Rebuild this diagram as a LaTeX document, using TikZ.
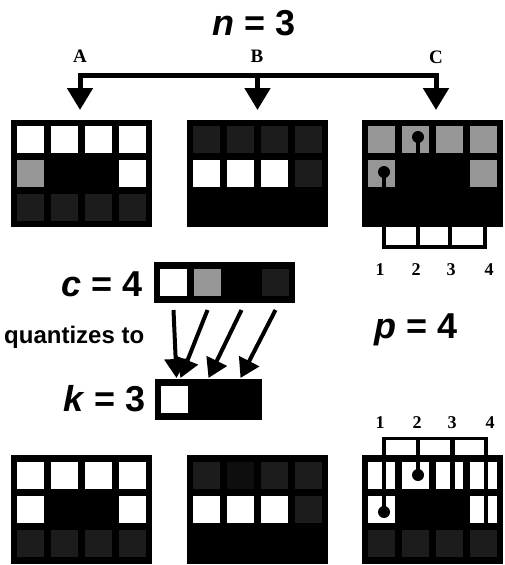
\documentclass[tikz,border=0pt]{standalone}
\usepackage{fontspec}
\setmainfont{Liberation Serif}
\setsansfont{Liberation Sans}
\usetikzlibrary{arrows.meta}
\definecolor{gy}{RGB}{150,150,150}
\definecolor{dk}{RGB}{28,28,28}
\definecolor{dkb}{RGB}{14,14,14}
\definecolor{bk}{RGB}{0,0,0}
\definecolor{wt}{RGB}{255,255,255}
\tikzset{
  boxfill/.style={fill=black, draw=none, inner sep=0pt, outer sep=0pt, anchor=north west},
  cellbox/.style={draw=none, inner sep=0pt, outer sep=0pt, minimum width=27pt, minimum height=27pt, anchor=north west},
  mathlbl/.style={font=\sffamily\bfseries\fontsize{36}{40}\selectfont, inner sep=0pt},
  wordlbl/.style={font=\sffamily\bfseries\fontsize{24}{27}\selectfont, inner sep=0pt},
  letterlbl/.style={font=\rmfamily\bfseries\fontsize{19}{22}\selectfont, inner sep=0pt, anchor=base},
  numlbl/.style={font=\rmfamily\bfseries\fontsize{18}{20}\selectfont, inner sep=0pt, anchor=base},
  bus/.style={line width=5pt, draw=black},
  bigtip/.style={-{Triangle[width=25pt,length=22pt]}},
  qarrow/.style={line width=4pt, draw=black, -{Triangle[width=22pt,length=19pt]}},
  wire/.style={line width=4.5pt, draw=black},
  pin/.style={circle, fill=black, draw=none, inner sep=0pt, minimum size=12pt},
  whitecell/.style={fill=white, draw=none, inner sep=0pt, outer sep=0pt, anchor=north west}
}
% name, x0, y0, box height, 12 colours (row major)
\newcommand{\gridpanel}[5]{%
  \node[boxfill, minimum width=141pt, minimum height=#4pt] (#1) at (#2,#3) {};
  \foreach \cc [count=\i from 0] in {#5} {
    \pgfmathtruncatemacro\cx{mod(\i,4)}
    \pgfmathtruncatemacro\cy{div(\i,4)}
    \node[cellbox, fill=\cc] (#1-\i) at ({#2+6+34*\cx},{#3+(#4-95)/2+34*\cy}) {};
  }
}
\begin{document}
\begin{tikzpicture}[x=1pt, y=-1pt]
\fill[white] (0,0) rectangle (504,565);
\useasboundingbox (0,0) rectangle (504,565);

% ---------- top title and distribution ----------
\node[mathlbl, anchor=base] (ntitle) at (254,35) {\textit{n} = 3};
\node[letterlbl] (labA) at (80,62) {A};
\node[letterlbl] (labB) at (257,62) {B};
\node[letterlbl] (labC) at (436,63) {C};

% ---------- top row panels ----------
\gridpanel{pA}{11}{120}{107}{wt,wt,wt,wt, gy,bk,bk,wt, dk,dk,dk,dk}
\gridpanel{pB}{187}{120}{107}{dk,dk,dk,dk, wt,wt,wt,dk, bk,bk,bk,bk}
\gridpanel{pC}{362}{120}{107}{gy,gy,gy,gy, gy,bk,bk,gy, bk,bk,bk,bk}

\coordinate (hub) at (257,75);
\draw[bus, {Triangle[width=25pt,length=22pt]}-{Triangle[width=25pt,length=22pt]}, shorten <=10pt, shorten >=10pt]
  (pA.north -| labA) -- (labA |- hub) -- (labC |- hub) -- (pC.north -| labC);
\draw[bus, bigtip, shorten >=10pt] (pB.north |- hub) -- (pB.north);

% bracket below panel C
\node[boxfill, minimum width=105.5pt, minimum height=21.5pt] (brT) at (381.75,227) {};
\node[whitecell, minimum width=29.5pt, minimum height=17.5pt] (brT-1) at (386.25,227) {};
\node[whitecell, minimum width=27.5pt, minimum height=17.5pt] (brT-2) at (420.25,227) {};
\node[whitecell, minimum width=30.5pt, minimum height=17.5pt] (brT-3) at (452.25,227) {};
\node[pin] (pinT2) at (418,137) {};
\node[pin] (pinT1) at (384,172) {};
\draw[wire] (pinT2.center) -- (pinT2.center |- brT.south);
\draw[wire] (pinT1.center) -- (pinT1.center |- brT.south);
\node[numlbl] (t1) at (380,275) {1};
\node[numlbl] (t2) at (416,275) {2};
\node[numlbl] (t3) at (451,275) {3};
\node[numlbl] (t4) at (489,275) {4};

% ---------- quantization ----------
\node[mathlbl, anchor=base east] (clbl) at (143,296) {\textit{c} = 4};
\node[boxfill, minimum width=141pt, minimum height=41pt] (cbar) at (154,262) {};
\node[cellbox, fill=wt] (c-0) at (160,269) {};
\node[cellbox, fill=gy] (c-1) at (194,269) {};
\node[cellbox, fill=bk] (c-2) at (228,269) {};
\node[cellbox, fill=dk] (c-3) at (262,269) {};

\node[wordlbl, anchor=base west] (qlbl) at (4,343) {quantizes to};

\node[mathlbl, anchor=base east] (klbl) at (146,411) {\textit{k} = 3};
\node[boxfill, minimum width=107pt, minimum height=41pt] (kbar) at (155,379) {};
\node[cellbox, fill=wt] (k-0) at (161,386) {};
\node[cellbox, fill=bk] (k-1) at (195,386) {};
\node[cellbox, fill=bk] (k-2) at (229,386) {};

\coordinate (qtop) at (0,310);
\coordinate (qbot) at (0,378);
\draw[qarrow] (c-0 |- qtop) -- ([xshift=2pt]k-0 |- qbot);
\draw[qarrow] (c-1 |- qtop) -- ([xshift=6pt]k-0 |- qbot);
\draw[qarrow] (c-2 |- qtop) -- (k-1 |- qbot);
\draw[qarrow] (c-3 |- qtop) -- ([xshift=-2pt]k-2 |- qbot);

\node[mathlbl, anchor=base] (plbl) at (416,338) {\textit{p} = 4};

% ---------- bottom row panels ----------
\gridpanel{qA}{11}{455}{109}{wt,wt,wt,wt, wt,bk,bk,wt, dk,dk,dk,dk}
\gridpanel{qB}{187}{455}{109}{dk,dkb,dk,dk, wt,wt,wt,dk, bk,bk,bk,bk}
\gridpanel{qC}{362}{455}{109}{wt,wt,wt,wt, wt,bk,bk,wt, dk,dk,dk,dk}

% bracket above panel C
\node[boxfill, minimum width=106pt, minimum height=20pt] (brB) at (381.75,437) {};
\node[whitecell, minimum width=29.5pt, minimum height=15pt] (brB-1) at (386.25,440) {};
\node[whitecell, minimum width=30pt, minimum height=15pt] (brB-2) at (420.25,440) {};
\node[whitecell, minimum width=29pt, minimum height=15pt] (brB-3) at (454.75,440) {};
\node[pin] (pinB2) at (418,475) {};
\node[pin] (pinB1) at (384,512) {};
\coordinate (endB3) at (452.5,523);
\coordinate (endB4) at (486,523);
\draw[wire] (pinB1.center) -- (pinB1.center |- brB.north);
\draw[wire] (pinB2.center) -- (pinB2.center |- brB.north);
\draw[wire] (endB3) -- (endB3 |- brB.north);
\draw[wire] (endB4) -- (endB4 |- brB.north);
\node[numlbl] (b1) at (380,428) {1};
\node[numlbl] (b2) at (417,428) {2};
\node[numlbl] (b3) at (452,428) {3};
\node[numlbl] (b4) at (490,428) {4};
\end{tikzpicture}
\end{document}
